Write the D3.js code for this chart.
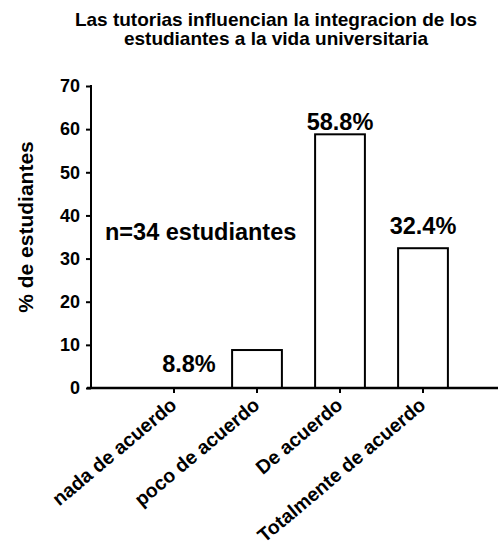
<!DOCTYPE html>
<html><head><meta charset="utf-8">
<script src="https://cdn.jsdelivr.net/npm/d3@7"></script>
<style>body{margin:0;background:#fff}svg{display:block}text{font-family:"Liberation Sans",Arial,sans-serif;font-weight:bold;fill:#000}</style>
</head><body>
<script>
const categories = ["nada de acuerdo","poco de acuerdo","De acuerdo","Totalmente de acuerdo"];
const values = [0, 8.8, 58.8, 32.4];
const valueLabels = ["", "8.8%", "58.8%", "32.4%"];
const yTicks = [0,10,20,30,40,50,60,70];
const titleLines = ["Las tutorias influencian la integracion de los","estudiantes a la vida universitaria"];
const yTitle = "% de estudiantes";
const note = "n=34 estudiantes";

const W=498,H=546;
const svg=d3.select("body").append("svg").attr("width",W).attr("height",H);
const x0=91, x1=498, yTop=86, yBot=388;
const y=d3.scaleLinear().domain([0,70]).range([yBot,yTop]);
const x=d3.scaleBand().domain(categories).range([132.5,464.5]).paddingInner(0.4).paddingOuter(0.2);

// title
svg.append("text").attr("x",276).attr("y",26).attr("text-anchor","middle").style("font-size","19px")
  .selectAll("tspan").data(titleLines).join("tspan").attr("x",276).attr("dy",(d,i)=>i?19:0).text(d=>d);

// bars
svg.selectAll("rect.bar").data(values).join("rect").attr("class","bar")
  .attr("x",(d,i)=>x(categories[i])).attr("width",x.bandwidth())
  .attr("y",d=>y(d)).attr("height",d=>yBot-y(d))
  .attr("fill","#fff").attr("stroke","#000").attr("stroke-width",2)
  .style("display",d=>d>0?null:"none");

// y axis
const ya=svg.append("g").attr("transform",`translate(${x0},0)`)
  .call(d3.axisLeft(y).tickValues(yTicks).tickSize(5).tickPadding(6));
ya.select(".domain").remove();
ya.selectAll("line").attr("stroke","#000").attr("stroke-width",2);
ya.selectAll("text").style("font-size","18px").attr("font-family",null);
svg.append("line").attr("x1",x0).attr("x2",x0).attr("y1",yTop-1).attr("y2",yBot+1).attr("stroke","#000").attr("stroke-width",2);

// x axis
const xa=svg.append("g").attr("transform",`translate(0,${yBot})`)
  .call(d3.axisBottom(x).tickSize(5).tickSizeOuter(0).tickPadding(4));
xa.select(".domain").remove();
xa.selectAll("line").attr("stroke","#000").attr("stroke-width",2);
xa.selectAll("text").style("font-size","19.5px").attr("font-family",null)
  .attr("text-anchor","end").attr("dy",null).attr("y",0)
  .attr("transform","translate(4,19) rotate(-40)");
svg.append("line").attr("x1",x0-4).attr("x2",x1).attr("y1",yBot).attr("y2",yBot).attr("stroke","#000").attr("stroke-width",2.5);

// y title
svg.append("text").attr("transform",`translate(33,227) rotate(-90)`).attr("text-anchor","middle").style("font-size","21px").text(yTitle);

// value labels
svg.selectAll("text.val").data(values).join("text").attr("class","val")
  .attr("x",(d,i)=> i===1 ? x(categories[0])+x.bandwidth()/2+15 : x(categories[i])+x.bandwidth()/2)
  .attr("y",(d,i)=> i===1 ? y(3.6) : y(d)-4 - (i===3?10:0))
  .attr("text-anchor","middle").style("font-size","23.5px").text((d,i)=>valueLabels[i]);

// note
svg.append("text").attr("x",105).attr("y",240).style("font-size","23.5px").text(note);
</script>
</body></html>
